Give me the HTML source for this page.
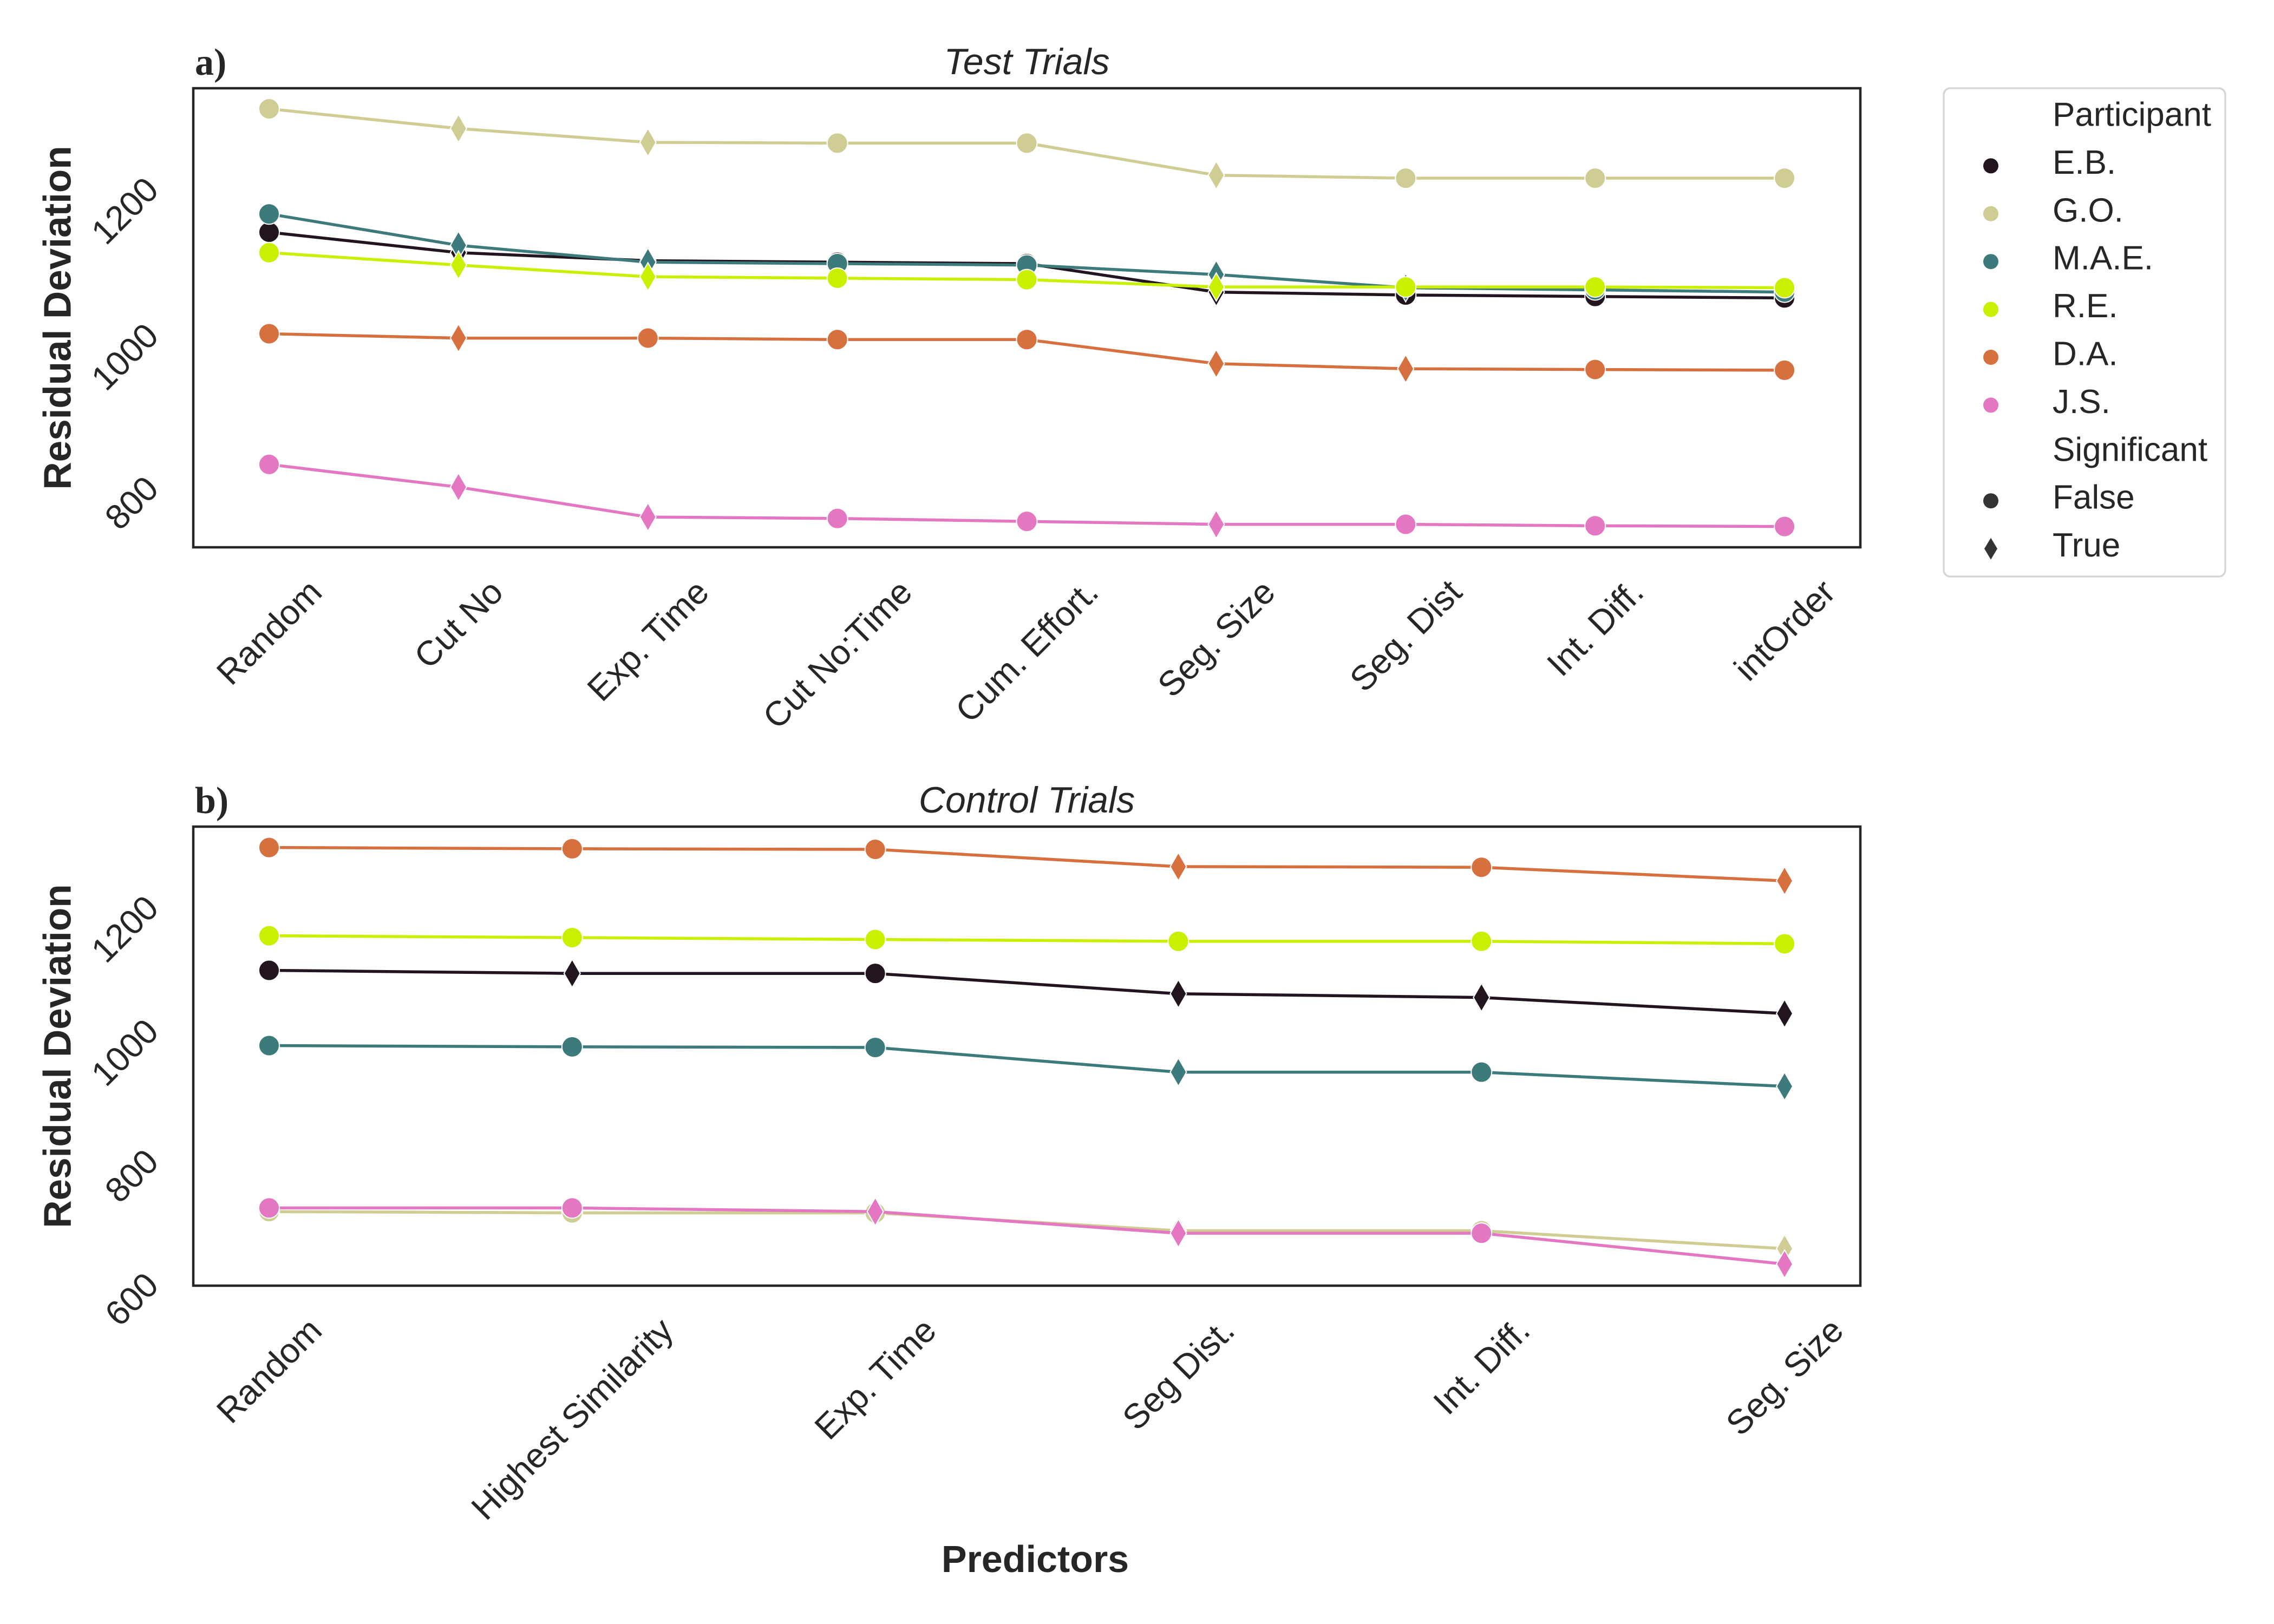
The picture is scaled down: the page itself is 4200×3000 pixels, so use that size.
<!DOCTYPE html>
<html><head><meta charset="utf-8">
<style>
html,body{margin:0;padding:0;background:#fff;}
svg{display:block;font-family:"Liberation Sans",sans-serif;}
</style></head>
<body>
<svg id="chart" xmlns="http://www.w3.org/2000/svg" width="4200" height="3000" viewBox="0 0 4200 3000">
<rect x="0" y="0" width="4200" height="3000" fill="#fff"/>
</svg>
<script>
// ---- data ----
const participants = ["E.B.","G.O.","M.A.E.","R.E.","D.A.","J.S."];
const colors = ["#231520","#d0cd94","#3d7a7c","#c8f000","#d6713f","#e377c2"];

const catsA = ["Random","Cut No","Exp. Time","Cut No:Time","Cum. Effort.","Seg. Size","Seg. Dist","Int. Diff.","intOrder"];
const valsA_EB  = [1152,1124,1113,1111,1109,1070,1066,1064,1062];
const valsA_GO  = [1321,1294,1275,1274,1274,1230,1226,1226,1226];
const valsA_MAE = [1177,1134,1111,1109,1107,1094,1076,1073,1070];
const valsA_RE  = [1124,1107,1091,1089,1087,1077,1077,1077,1076];
const valsA_DA  = [1013,1007,1007,1005,1005,972,965,964,963];
const valsA_JS  = [834,803,762,760,756,752,752,750,749];
const sigA_EB  = [0,1,1,0,0,1,0,0,0];
const sigA_GO  = [0,1,1,0,0,1,0,0,0];
const sigA_MAE = [0,1,1,0,0,1,1,0,0];
const sigA_RE  = [0,1,1,0,0,1,0,0,0];
const sigA_DA  = [0,1,0,0,0,1,1,0,0];
const sigA_JS  = [0,1,1,0,0,1,0,0,0];
const ticksA = [800,1000,1200];

const catsB = ["Random","Highest Similarity","Exp. Time","Seg Dist.","Int. Diff.","Seg. Size"];
const valsB_EB  = [1111,1106,1106,1073,1067,1041];
const valsB_GO  = [720,718,718,689,689,660];
const valsB_MAE = [989,987,986,946,946,923];
const valsB_RE  = [1167,1164,1161,1158,1158,1154];
const valsB_DA  = [1310,1308,1307,1279,1278,1256];
const valsB_JS  = [726,726,720,685,685,635];
const sigB_EB  = [0,1,0,1,1,1];
const sigB_GO  = [0,0,0,1,0,1];
const sigB_MAE = [0,0,0,1,0,1];
const sigB_RE  = [0,0,0,0,0,0];
const sigB_DA  = [0,0,0,1,0,1];
const sigB_JS  = [0,0,1,1,0,1];
const ticksB = [600,800,1000,1200];

const orderA = [["E.B.",valsA_EB,sigA_EB],["G.O.",valsA_GO,sigA_GO],["M.A.E.",valsA_MAE,sigA_MAE],["R.E.",valsA_RE,sigA_RE],["D.A.",valsA_DA,sigA_DA],["J.S.",valsA_JS,sigA_JS]];
const orderB = [["E.B.",valsB_EB,sigB_EB],["G.O.",valsB_GO,sigB_GO],["M.A.E.",valsB_MAE,sigB_MAE],["R.E.",valsB_RE,sigB_RE],["D.A.",valsB_DA,sigB_DA],["J.S.",valsB_JS,sigB_JS]];

const NS = "http://www.w3.org/2000/svg";
const svg = document.getElementById("chart");
function mk(tag, attrs, parent){
  const e = document.createElementNS(NS, tag);
  for (const k in attrs) e.setAttribute(k, attrs[k]);
  (parent||svg).appendChild(e);
  return e;
}
const TXT = "#262626";
const AX_L = 357, AX_R = 3436;
const TICK_FS = 64;

function drawPanel(cfg){
  const g = mk("g", {});
  
  
  const n = cfg.cats.length;
  const margin = cfg.margin;
  const sp = (AX_R-AX_L)/(n-1+2*margin);
  const xS = i => AX_L + (i+margin)*sp;
  const yS = v => cfg.yBase - (v-cfg.vBase)*cfg.k;

  cfg.order.forEach(([name, vals, sig]) => {
    const ci = participants.indexOf(name);
    const col = colors[ci];
    const sg = mk("g", {}, g);
    
    
    const pts = vals.map((v,i)=> xS(i).toFixed(1)+","+yS(v).toFixed(1)).join(" ");
    const pl = mk("polyline", {points: pts, fill:"none", stroke:col, "stroke-width":5.5, "stroke-linejoin":"round"}, sg);
    
    
    vals.forEach((v,i)=>{
      const x = xS(i), y = yS(v);
      let m;
      if (sig[i]) {
        m = mk("polygon", {points:`${x},${y-26} ${x+15},${y} ${x},${y+26} ${x-15},${y}`, fill:col, stroke:"#fff", "stroke-width":2}, sg);
      } else {
        m = mk("circle", {cx:x, cy:y, r:19, fill:col, stroke:"#fff", "stroke-width":2}, sg);
      }
      
      
    });
  });

  const fr = mk("rect", {x:AX_L, y:cfg.top, width:AX_R-AX_L, height:cfg.bottom-cfg.top, fill:"none", stroke:TXT, "stroke-width":4.5}, g);
  
  

  cfg.ticks.forEach(t=>{
    const tx = mk("text", {"font-size":TICK_FS, fill:TXT, "text-anchor":"middle", "dominant-baseline":"central"}, g);
    tx.textContent = String(t);
    
    
    const w = tx.getComputedTextLength();
    const bw = (w + 46)*0.7071;
    const cx = 297 - bw/2, cy = yS(t) + 25;
    tx.setAttribute("transform", `translate(${cx},${cy}) rotate(-45)`);
  });

  cfg.cats.forEach((c,i)=>{
    const tx = mk("text", {"font-size":TICK_FS, fill:TXT, "text-anchor":"middle", "dominant-baseline":"central"}, g);
    tx.textContent = c;
    
    
    const w = tx.getComputedTextLength();
    const bh = (w + 46)*0.7071;
    tx.setAttribute("transform", `translate(${xS(i)},${cfg.bottom+55+bh/2}) rotate(-45)`);
  });

  const tt = mk("text", {x:(AX_L+AX_R)/2, y:cfg.top-26, "font-size":68, "font-style":"italic", fill:TXT, "text-anchor":"middle"}, g);
  tt.textContent = cfg.title;
  
  
  const pl = mk("text", {x:360, y:cfg.top-25, "font-size":70, "font-weight":"bold", fill:TXT, "font-family":"'Liberation Serif','DejaVu Serif',serif"}, g);
  pl.textContent = cfg.letter;
  
  

  const cy = (cfg.top+cfg.bottom)/2;
  const yl = mk("text", {x:0, y:0, "font-size":71, "font-weight":"bold", fill:TXT, "text-anchor":"middle", "dominant-baseline":"central", transform:`translate(107,${cy}) rotate(-90)`}, g);
  yl.textContent = "Residual Deviation";
  
  
}

drawPanel({name:"panel-a-test-trials", cats:catsA, margin:0.4, order:orderA, ticks:ticksA,
  top:163, bottom:1011, yBase:634, vBase:1000, k:1.349, title:"Test Trials", letter:"a)"});
drawPanel({name:"panel-b-control-trials", cats:catsB, margin:0.25, order:orderB, ticks:ticksB,
  top:1527, bottom:2375, yBase:2375, vBase:600, k:1.14, title:"Control Trials", letter:"b)"});

const xt = mk("text", {x:1912, y:2904, "font-size":70, "font-weight":"bold", fill:TXT, "text-anchor":"middle"});
xt.textContent = "Predictors";



const lg = mk("g", {});


const lb = mk("rect", {x:3590, y:163, width:520, height:902, rx:12, fill:"#fff", stroke:"#d6d6d6", "stroke-width":3.5}, lg);


const legRows = ["Participant"].concat(participants).concat(["Significant","False","True"]);
legRows.forEach((lab, r)=>{
  const y = 212 + r*88.4;
  const t = mk("text", {x:3791, y:y, "font-size":62, fill:TXT, "dominant-baseline":"central"}, lg);
  t.textContent = lab;
  
  
  let m = null;
  const pi = participants.indexOf(lab);
  if (pi >= 0) m = mk("circle", {cx:3677, cy:y+6, r:14, fill:colors[pi]}, lg);
  else if (lab === "False") m = mk("circle", {cx:3677, cy:y+6, r:14, fill:"#333"}, lg);
  else if (lab === "True") m = mk("polygon", {points:`3677,${y-14} 3689,${y+6} 3677,${y+26} 3665,${y+6}`, fill:"#333"}, lg);
  if (m) {
    
    
  }
});
</script>
</body></html>
